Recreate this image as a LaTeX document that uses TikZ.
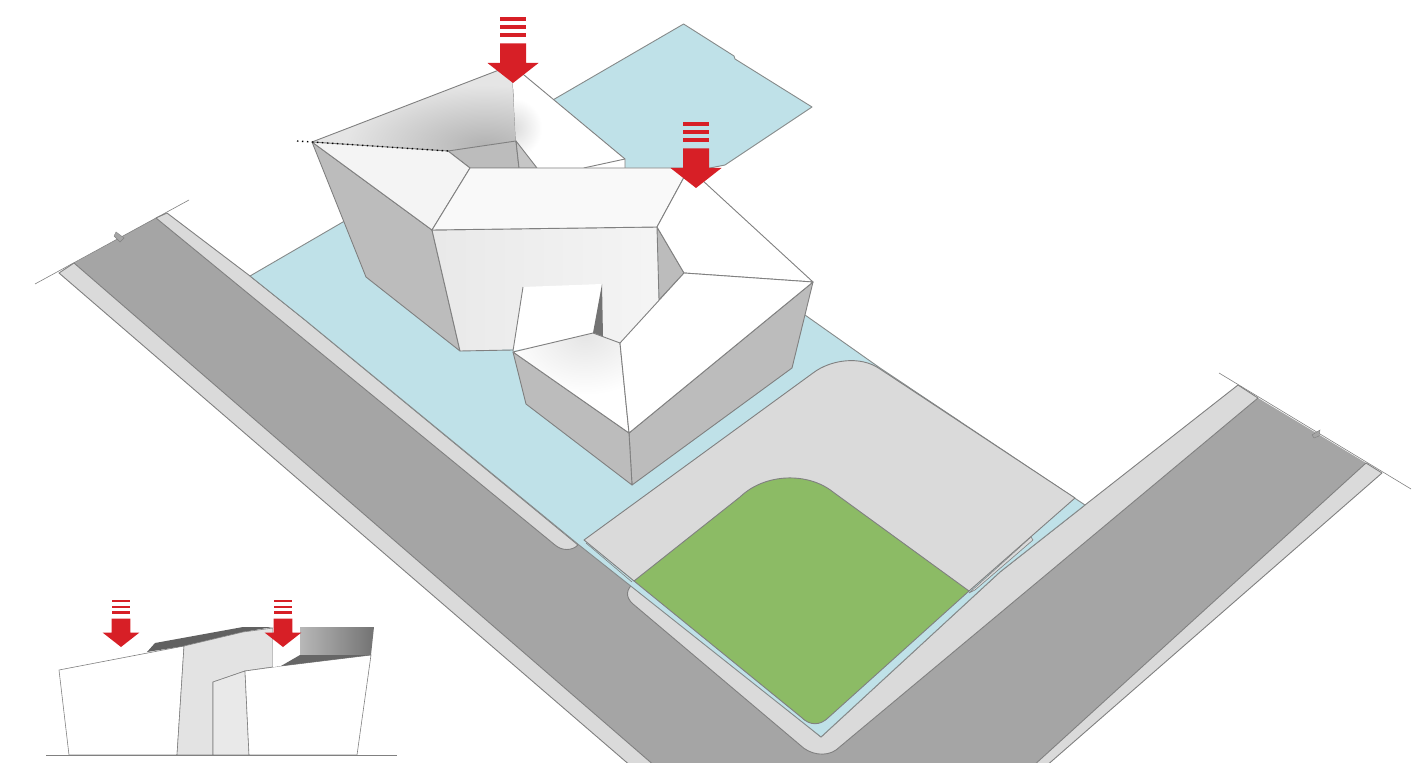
\documentclass[tikz,border=0pt]{standalone}
\usepackage{xcolor}
\usetikzlibrary{calc}
\definecolor{roadgrey}{HTML}{A5A5A5}
\definecolor{walkgrey}{HTML}{DADADA}
\definecolor{plotblue}{HTML}{BFE1E8}
\definecolor{lawngreen}{HTML}{8CBB65}
\definecolor{wallgrey}{HTML}{BCBCBC}
\definecolor{frontgrey}{HTML}{F0F0F0}
\definecolor{dropred}{HTML}{D71F26}
\definecolor{greyline}{HTML}{808080}
\begin{document}
\begin{tikzpicture}[
    x=1pt, y=-1pt,
    edge/.style={draw=greyline, line width=0.9pt, line join=round},
    thinedge/.style={draw=greyline, line width=0.6pt, line join=round},
    road/.style={fill=roadgrey, draw=none},
    walk/.style={fill=walkgrey, edge},
    plot/.style={fill=plotblue, draw=greyline!90!plotblue, line width=0.9pt, line join=round},
    wall/.style={fill=wallgrey, edge},
    roof/.style={fill=white, edge}
]
\useasboundingbox (0,0) rectangle (1417,767);

\begin{scope}
\clip (0,0) rectangle (1417,762);
% Roads
\draw[road] (74,263) -- (156,218) -- (555,545) -- (578,540) -- (640,585) -- (800,745)
    -- (836,750) -- (1258,398) -- (1366,463) -- (1032,767) -- (656,767) -- cycle;
\draw[thinedge] (35,284) -- (189,200);
\draw[thinedge] (1219,373) -- (1411,489);
\draw[fill=roadgrey, draw=greyline, line width=0.4pt] (114,236) -- (116,232) -- (124,238) -- (120,242) -- cycle;
\draw[fill=roadgrey, draw=greyline, line width=0.4pt] (1312,435) -- (1320,430) -- (1319,436) -- (1314,438) -- cycle;

% Sidewalks
\draw[walk] (59,273) -- (74,263) -- (656,767) -- (632,767) -- cycle;
\draw[walk] (167,213) -- (250,276) -- (305,320) -- (578,545) .. controls (572,551) and (562,551) .. (555,545) -- (156,218) -- cycle;
\draw[walk] (634,583) -- (821,737) -- (1000,572) -- (1085,505) -- (1238,385) -- (1258,398) -- (836,750)
    .. controls (826,757) and (810,755) .. (800,745) -- (633,604)
    .. controls (625,597) and (626,589) .. (634,583) -- cycle;
\draw[walk] (1366,463) -- (1382,473) -- (1045,767) -- (1032,767) -- cycle;

% Plot
\draw[plot] (250,276) -- (683.6,24) -- (734,56) -- (735,59) -- (812,107) -- (725,165) -- (690,172)
    -- (700,240) -- (805,315) -- (880,368) -- (1085,505) -- (1000,572) -- (821,737) -- (579,545) -- (305,320) -- cycle;

% Forecourt and lawn
\draw[walk] (584,540) -- (813,373) .. controls (830,360) and (860,355) .. (880,369)
    -- (1075,498) -- (969,591) -- (634,581) -- cycle;
\draw[thinedge] (586,543) -- (632,582);
\draw[fill=walkgrey, thinedge] (969,593) -- (1031,537) -- (1033,540) -- (975,590) -- cycle;
\draw[fill=lawngreen, edge] (634,581) -- (740,497) .. controls (765,473) and (808,472) .. (833,492)
    -- (969,591) -- (829,717) .. controls (820,726) and (810,726) .. (801,717) -- cycle;
\end{scope}

% Walls
\draw[wall] (312,142) -- (432,230) -- (460,351) -- (366,277) -- cycle;
\shade[left color=frontgrey!97!black, right color=frontgrey!70!white] (432,230) -- (657,227) -- (660,345) -- (460,351) -- cycle;
\draw[edge] (432,230) -- (657,227);
\draw[edge] (432,230) -- (460,351) -- (513,350);
\draw[wall] (657,227) -- (684,273) -- (659,300) -- cycle;
\draw[wall] (813,282) -- (629,433) -- (632,485) -- (792,368) -- cycle;
\draw[wall] (513,352) -- (526,404) -- (632,485) -- (629,433) -- cycle;

% Upper roof
\draw[fill=walkgrey!70!white, draw=none] (312,142) -- (512,65) -- (516,141) -- (448,151) -- cycle;
\begin{scope}
\clip (312,142) -- (512,65) -- (516,141) -- (448,151) -- cycle;
\shade[inner color=wallgrey!95!black, outer color=walkgrey!70!white] (485,145) ellipse (140 and 60);
\end{scope}
\draw[edge] (312,142) -- (512,65) -- (516,141);
\draw[fill=white, draw=none] (512,65) -- (625,159) -- (625,168) -- (537,168) -- (516,141) -- cycle;
\begin{scope}
\clip (512,65) -- (625,159) -- (625,168) -- (537,168) -- (516,141) -- cycle;
\shade[inner color=walkgrey, outer color=white] (512,128) circle (30);
\end{scope}
\draw[edge] (512,65) -- (625,159) -- (625,168);
\draw[edge] (583.6,168) -- (625,159);
\draw[wall] (448,151) -- (516,141) -- (519,168) -- (470,168) -- cycle;
\draw[fill=wallgrey!85!white, edge] (516,141) -- (537,168) -- (519,168) -- cycle;
\draw[fill=frontgrey!70!white, edge] (312,142) -- (448,151) -- (470,168) -- (432,230) -- cycle;
\draw[fill=frontgrey!40!white, edge] (470,168) -- (689,168) -- (657,227) -- (432,230) -- cycle;
\draw[black, dash pattern=on 1.4pt off 3.6pt, line width=1.4pt] (297,141) -- (448,151);

% Lower roof and opening
\draw[roof] (657,227) -- (689,168) -- (813,282) -- (684,273) -- cycle;
\draw[fill=white, draw=none] (523,287) -- (602,284) -- (593,333) -- (513,351) -- cycle;
\draw[edge] (523,287) -- (513,351);
\draw[fill=black!55, draw=none] (602,284) -- (593,333) -- (603,337) -- cycle;
\draw[fill=white, draw=none] (513,352) -- (593,333) -- (620,343) -- (629,433) -- cycle;
\begin{scope}
\clip (513,352) -- (593,333) -- (620,343) -- (629,433) -- cycle;
\shade[inner color=walkgrey!70!white, outer color=white] (585,335) ellipse (80 and 60);
\end{scope}
\draw[edge] (513,352) -- (593,333) -- (620,343) -- (629,433) -- cycle;
\draw[roof] (684,273) -- (813,282) -- (629,433) -- (620,343) -- cycle;

% Small elevation
\draw[fill=white, thinedge] (59,670) -- (184,646) -- (177,755) -- (69,755) -- cycle;
\draw[fill=black!62, draw=none] (147,652) -- (155,643) -- (243,627) -- (273,627) -- (243,632) -- (184,646) -- cycle;
\draw[fill=walkgrey!75!white, thinedge] (184,646) -- (243,632) -- (273,628) -- (273,667) -- (245,671) -- (213,682) -- (213,755) -- (177,755) -- cycle;
\draw[fill=walkgrey!60!white, thinedge] (213,682) -- (245,671) -- (249,755) -- (213,755) -- cycle;
\draw[fill=white, thinedge] (245,671) -- (281,666) -- (371,655) -- (357,755) -- (249,755) -- cycle;
\draw[fill=white, draw=none] (273,628) -- (300,628) -- (300,655) -- (281,666) -- (273,667) -- cycle;
\shade[left color=black!28, right color=black!55] (300,627) -- (374,627) -- (371,655) -- (300,655) -- cycle;
\draw[fill=black!60, draw=none] (281,666) -- (300,655) -- (371,655) -- cycle;
\draw[thinedge] (46,755) -- (397,755);

% Drop arrows
\foreach \ax/\ay/\as in {513/83/1, 696/188/1, 121/647/0.72, 283/647/0.72} {
    \begin{scope}[shift={(\ax,\ay)}, scale=\as]
    \fill[dropred] (0,0) -- (-25.5,-20) -- (-13,-20) -- (-13,-39.5) -- (13,-39.5) -- (13,-20) -- (25.5,-20) -- cycle;
    \foreach \by in {46, 54, 62}
        \fill[dropred] (-13,-\by) rectangle (13,-\by-3.6);
    \end{scope}
}
\end{tikzpicture}
\end{document}
